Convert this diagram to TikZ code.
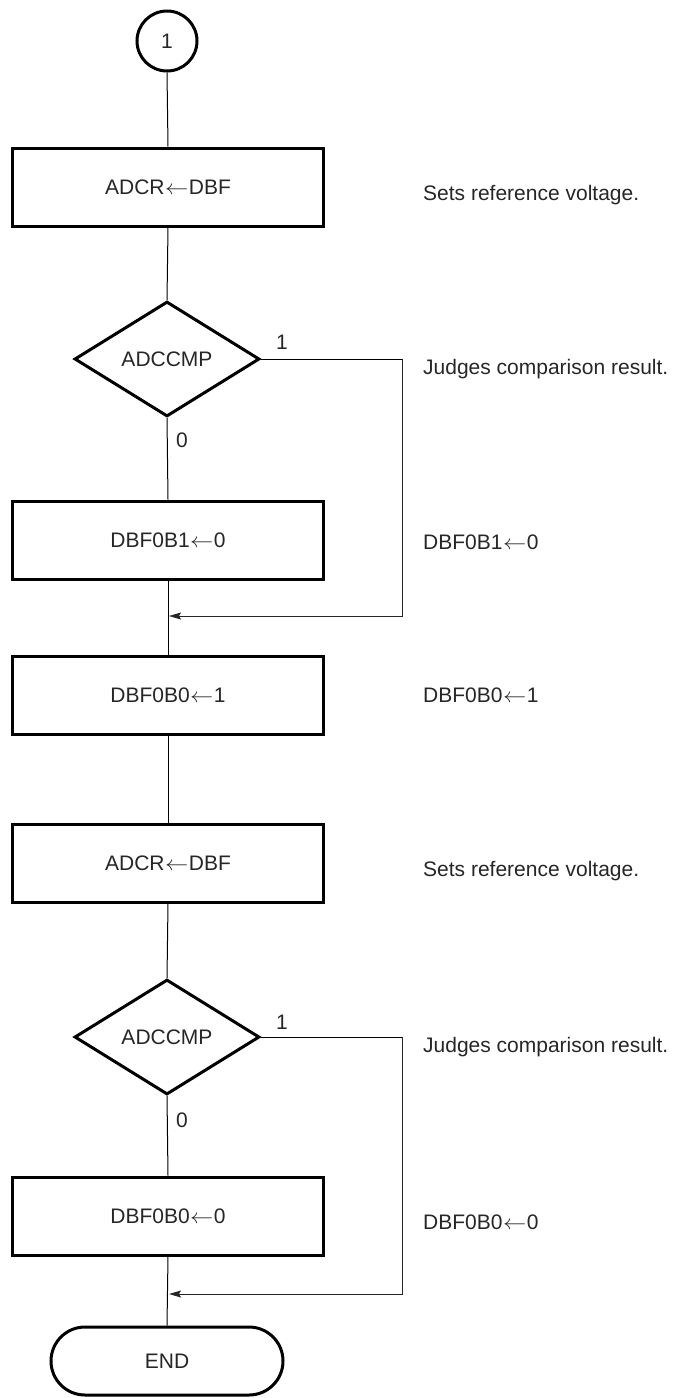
\documentclass[tikz,border=0pt]{standalone}
\usepackage{fontspec}
\setmainfont{Liberation Sans}
\usetikzlibrary{shapes.geometric,shapes.misc,arrows.meta}
\newcommand{\larr}{\kern0.5pt\scalebox{1.12}[1]{$\leftarrow$}\kern0.5pt}
\begin{document}
\begin{tikzpicture}[x=1pt,y=-1pt,
  every node/.style={font=\fontsize{21}{25}\selectfont, text=black!85},
  procbox/.style={draw=black, line width=3pt, minimum width=311pt, minimum height=78pt, inner sep=0pt},
  decbox/.style={draw=black, line width=3pt, diamond, minimum width=185pt, minimum height=115pt, inner sep=0pt},
  connbox/.style={draw=black, line width=3pt, circle, minimum size=60pt, inner sep=0pt},
  termbox/.style={draw=black, line width=3pt, rounded rectangle, minimum width=232pt, minimum height=68pt, inner sep=0pt},
  flow/.style={line width=1pt, draw=black},
  arr/.style={line width=1pt, draw=black!85, -{Stealth[length=12pt,width=7pt,inset=2pt]}},
  note/.style={anchor=base west, inner sep=0pt},
  lbl/.style={inner sep=0pt}
]
\useasboundingbox (0,0) rectangle (678,1398);

\node[connbox] (c1) at (167,41) {1};
\node[procbox] (b1) at (168,187) {ADCR\larr DBF};
\node[decbox] (d1) at (167,359) {ADCCMP};
\node[procbox] (b2) at (168,540) {DBF0B1\larr 0};
\coordinate (j1) at (167,616);
\node[procbox] (b3) at (168,695) {DBF0B0\larr 1};
\node[procbox] (b4) at (168,863) {ADCR\larr DBF};
\node[decbox] (d2) at (167,1037) {ADCCMP};
\node[procbox] (b5) at (168,1216) {DBF0B0\larr 0};
\coordinate (j2) at (167,1294);
\node[termbox] (e) at (167,1361) {END};

\coordinate (r1) at (402,359);
\coordinate (r2) at (402,1037);

\draw[flow] (c1.south) -- (b1.north);
\draw[flow] (b1.south) -- (d1.north);
\draw[flow] (d1.south) -- (b2.north);
\draw[flow] (b2.south) -- (b3.north);
\draw[flow] (b3.south) -- (b4.north);
\draw[flow] (b4.south) -- (d2.north);
\draw[flow] (d2.south) -- (b5.north);
\draw[flow] (b5.south) -- (e.north);

\draw[flow] (d1.east) -- (r1);
\draw[arr] (r1) |- ([xshift=2pt]j1);
\draw[flow] (d2.east) -- (r2);
\draw[arr] (r2) |- ([xshift=2pt]j2);

\node[lbl] (l11) at (282,342) {1};
\node[lbl] (l10) at (182,440) {0};
\node[lbl] (l21) at (282,1022) {1};
\node[lbl] (l20) at (182,1120) {0};

\node[note] (n1) at (423,200) {Sets reference voltage.};
\node[note] (n2) at (423,374) {Judges comparison result.};
\node[note] (n3) at (423,549) {DBF0B1\larr 0};
\node[note] (n4) at (423,702) {DBF0B0\larr 1};
\node[note] (n5) at (423,876) {Sets reference voltage.};
\node[note] (n6) at (423,1052) {Judges comparison result.};
\node[note] (n7) at (423,1229) {DBF0B0\larr 0};
\end{tikzpicture}
\end{document}
